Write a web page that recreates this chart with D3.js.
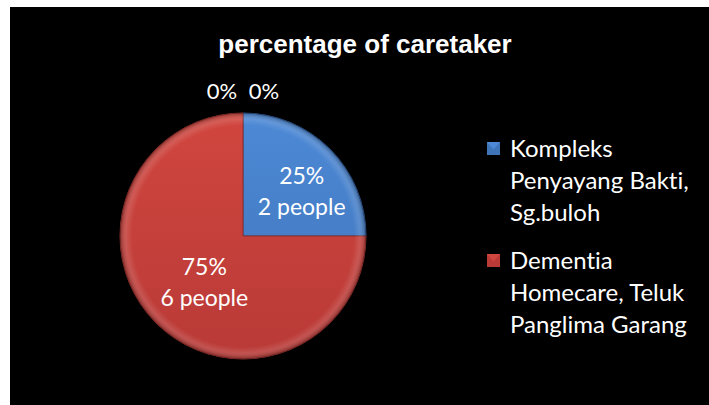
<!DOCTYPE html>
<html><head><meta charset="UTF-8">
<style>
body { margin: 0; background: #fff; }
text { font-family: Lato, "Noto Sans", sans-serif; fill: #fff; font-variant-ligatures: none; }
.title { font-family: "Liberation Sans", Arial, sans-serif; font-weight: bold; font-size: 26px; }
</style>
</head>
<body>
<svg width="709" height="405"></svg>
<script src="https://cdn.jsdelivr.net/npm/d3@7"></script>
<script>

var categories = ["Kompleks Penyayang Bakti, Sg.buloh", "Dementia Homecare, Teluk Panglima Garang", "", ""];
var people = [2, 6, 0, 0];
var percents = ["25%", "75%", "0%", "0%"];
var legendLines = [
    ["Kompleks", "Penyayang Bakti,", "Sg.buloh"],
    ["Dementia", "Homecare, Teluk", "Panglima Garang"]
];

var svg = d3.select("svg");

svg.append("rect")
    .attr("x", 10).attr("y", 7)
    .attr("width", 699).attr("height", 398)
    .attr("fill", "#000");

var cx = 243, cy = 236, r = 123;

var defs = svg.append("defs");
var grads = [["#4d89d6", "#3f74b8", "#2c5288"], ["#d1463f", "#b93a37", "#8e2e2b"]];
grads.forEach(function(c, i) {
  var gr = defs.append("linearGradient")
      .attr("id", "g" + i)
      .attr("gradientUnits", "userSpaceOnUse")
      .attr("x1", 0).attr("y1", -r).attr("x2", 0).attr("y2", r);
  gr.append("stop").attr("offset", "0%").attr("stop-color", c[0]);
  gr.append("stop").attr("offset", "100%").attr("stop-color", c[1]);
});
// bevel ring on the rim
var bevel = defs.append("radialGradient")
    .attr("id", "bevel")
    .attr("gradientUnits", "userSpaceOnUse")
    .attr("cx", 0).attr("cy", 0).attr("r", r);
bevel.append("stop").attr("offset", "0%").attr("stop-color", "#fff").attr("stop-opacity", 0);
bevel.append("stop").attr("offset", "90%").attr("stop-color", "#fff").attr("stop-opacity", 0);
bevel.append("stop").attr("offset", "95%").attr("stop-color", "#fff").attr("stop-opacity", 0.12);
bevel.append("stop").attr("offset", "100%").attr("stop-color", "#000").attr("stop-opacity", 0.3);

svg.append("text")
    .attr("class", "title")
    .attr("x", 365).attr("y", 53)
    .attr("text-anchor", "middle")
    .text("percentage of caretaker");

var pie = d3.pie().sort(null).value(function(d) { return d; });
var arcs = pie(people);

var arc = d3.arc().innerRadius(0).outerRadius(r);
var labelArc = d3.arc().innerRadius(r * 0.56).outerRadius(r * 0.56);

var g = svg.append("g").attr("transform", "translate(" + cx + "," + cy + ")");

var shown = arcs.filter(function(d) { return d.value > 0; });

g.selectAll(".slice")
    .data(shown)
  .enter().append("path")
    .attr("class", "slice")
    .attr("d", arc)
    .attr("fill", function(d) { return "url(#g" + d.index + ")"; })
    .attr("stroke", function(d) { return grads[d.index][2]; })
    .attr("stroke-width", 1);

g.selectAll(".bevel")
    .data(shown)
  .enter().append("path")
    .attr("class", "bevel")
    .attr("d", arc)
    .attr("fill", "url(#bevel)");

// inner labels
var nudge = [[10, 5], [10, -2]];
arcs.forEach(function(d, i) {
  if (d.value > 0) {
    var c = labelArc.centroid(d);
    var t = g.append("text")
        .attr("text-anchor", "middle")
        .attr("transform", "translate(" + (c[0] + nudge[i][0]) + "," + (c[1] + nudge[i][1]) + ")")
        .style("font-size", "23px");
    t.append("tspan").attr("x", 0).attr("y", -8).text(percents[i]);
    t.append("tspan").attr("x", 0).attr("y", 23).text(people[i] + " people");
  } else {
    // zero slices sit at the top, labels pushed just outside
    var a = d.startAngle, rr = r + 22;
    var side = i == 2 ? -1 : 1;
    g.append("text")
        .attr("text-anchor", "middle")
        .attr("x", Math.sin(a) * rr + side * 21)
        .attr("y", -Math.cos(a) * rr)
        .attr("dy", "0.35em")
        .style("font-size", "22px")
        .text(percents[i]);
  }
});

// legend
var legend = svg.append("g").attr("transform", "translate(487,142)");
var item = legend.selectAll(".item")
    .data(legendLines)
  .enter().append("g")
    .attr("class", "item")
    .attr("transform", function(d, i) { return "translate(0," + (i * 112) + ")"; });

item.append("rect")
    .attr("width", 13).attr("height", 13)
    .attr("fill", function(d, i) { return grads[i][1]; });
item.append("path")
    .attr("d", "M0,0L13,0L6.5,7.5Z")
    .attr("fill", function(d, i) { return grads[i][0]; });

item.append("text")
    .style("font-size", "24px")
    .selectAll("tspan")
    .data(function(d) { return d; })
  .enter().append("tspan")
    .attr("x", 23)
    .attr("y", function(d, j) { return 15 + j * 32; })
    .text(function(d) { return d; });

</script>
</body></html>
